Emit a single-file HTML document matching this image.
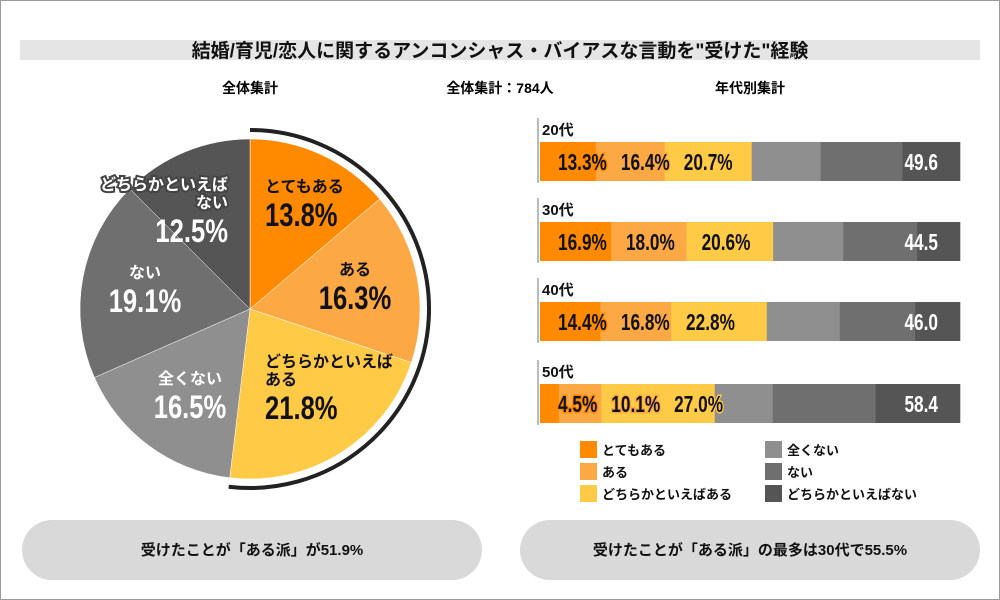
<!DOCTYPE html>
<html><head><meta charset="utf-8"><style>
body{margin:0;background:#fff;}
svg{display:block;font-family:"Liberation Sans","Noto Sans CJK JP",sans-serif;}
</style></head><body>
<svg width="1000" height="600" viewBox="0 0 1000 600">
<rect x="0.5" y="0.5" width="999" height="599" fill="#fff" stroke="#999"/>
<rect x="20" y="40" width="960" height="20" fill="#e5e5e5"/>
<text x="500" y="52" text-anchor="middle" dominant-baseline="middle" font-size="19" font-weight="bold" fill="#111">結婚/育児/恋人に関するアンコンシャス・バイアスな言動を"受けた"経験</text>
<text x="250" y="93" text-anchor="middle" font-size="14" font-weight="bold">全体集計</text>
<text x="500" y="93" text-anchor="middle" font-size="14" font-weight="bold">全体集計：784人</text>
<text x="750" y="93" text-anchor="middle" font-size="14" font-weight="bold">年代別集計</text>
<g id="pie"></g>
<g id="bars"></g>
<g id="legend"></g>
<rect x="22" y="520" width="460" height="60" rx="30" fill="#d9d9d9"/>
<text x="252" y="551" text-anchor="middle" dominant-baseline="middle" font-size="15" font-weight="bold" fill="#111">受けたことが「ある派」が51.9%</text>
<rect x="520" y="520" width="460" height="60" rx="30" fill="#d9d9d9"/>
<text x="750" y="551" text-anchor="middle" dominant-baseline="middle" font-size="15" font-weight="bold" fill="#111">受けたことが「ある派」の最多は30代で55.5%</text>
</svg>
<script>
const NS="http://www.w3.org/2000/svg";
const pieLabels=["とてもある","ある","どちらかといえばある","全くない","ない","どちらかといえばない"];
const pieValues=[13.8,16.3,21.8,16.5,19.1,12.5];
const colors=["#ff8a00","#fca845","#ffca45","#8f8f8f","#6f6f6f","#555555"];
const ages=["20代","30代","40代","50代"];
const s1=[13.3,16.9,14.4,4.5];
const s2=[16.4,18.0,16.8,10.1];
const s3=[20.7,20.6,22.8,27.0];
const s4=[16.4,16.7,17.4,13.8];
const s5=[19.5,17.6,17.9,24.5];
const s6=[13.7,10.2,10.7,20.1];
const totals=["49.6","44.5","46.0","58.4"];
function el(t,a,p){const e=document.createElementNS(NS,t);for(const k in a)e.setAttribute(k,a[k]);p.appendChild(e);return e;}
// pie
const pie=document.getElementById('pie');
const cx=250,cy=309,R=170;
const tot=pieValues.reduce((a,b)=>a+b,0);
function pt(r,f){const a=f*2*Math.PI-Math.PI/2;return [cx+r*Math.cos(a),cy+r*Math.sin(a)];}
let acc=0;
pieValues.forEach((v,i)=>{
  const f0=acc/tot,f1=(acc+v)/tot;acc+=v;
  const [x0,y0]=pt(R,f0),[x1,y1]=pt(R,f1);
  const p=el('path',{d:`M${cx},${cy}L${x0},${y0}A${R},${R} 0 ${f1-f0>0.5?1:0} 1 ${x1},${y1}Z`,fill:colors[i],stroke:'#fff','stroke-width':0.5},pie);
  
  
});
const af=(pieValues[0]+pieValues[1]+pieValues[2])/tot;
const [ax,ay]=pt(R+9,af);
const arc=el('path',{d:`M${cx},${cy-R-9}A${R+9},${R+9} 0 ${af>0.5?1:0} 1 ${ax},${ay}`,fill:'none',stroke:'#222','stroke-width':4},pie);


const pieTxt=[["とてもある"],["ある"],["どちらかといえば","ある"],["全くない"],["ない"],["どちらかといえば","ない"]];
const anchors=["start","middle","start","middle","middle","end"];
const lx=[265,355,265,190,145,228];
const ly=[192,275,367,384,278,190];
pieTxt.forEach((lines,i)=>{
  const dark=i<3;const fill=dark?'#111':'#fff';
  const g=el('g',{},pie);
  
  
  lines.forEach((l,j)=>{
    const t=el('text',{x:lx[i],y:ly[i]+j*18,'text-anchor':anchors[i],'font-size':16,'font-weight':'bold',fill:fill},g);
    if(i==5){t.setAttribute('stroke','#444');t.setAttribute('stroke-width','4');t.setAttribute('paint-order','stroke');}
    t.textContent=l;
  });
  const t2=el('text',{x:lx[i],y:ly[i]+(lines.length)*18+16,'text-anchor':anchors[i],'font-size':32,'font-weight':'bold',fill:fill,transform:`translate(${lx[i]},0) scale(0.8,1) translate(${-lx[i]},0)`},g);
  t2.textContent=pieValues[i].toFixed(1)+'%';
});
// bars
const bars=document.getElementById('bars');
const X0=540,W=420;
const xs=v=>v/100*W;
const series=[s1,s2,s3,s4,s5,s6];
const rowY=[142,222,302,384];
const SC=0.75;
ages.forEach((a,r)=>{
  const y=rowY[r];
  const ln=el('rect',{x:537,y:y-24,width:2,height:65,fill:'#bbb'},bars);
  
  
  const t=el('text',{x:542,y:y-7,'font-size':15,'font-weight':'bold',fill:'#111'},bars);
  
  
  t.textContent=a;
  let x=X0;
  const segStart=[];
  series.forEach((s,i)=>{
    const w=xs(s[r]);
    segStart.push(x);
    const rc=el('rect',{x:x,y:y,width:w+0.3,height:39,fill:colors[i]},bars);
    
    
    x+=w;
  });
  let prevEnd=0;
  for(let i=0;i<3;i++){
    const s=series[i];
    const lxs=i==0?558:Math.max(segStart[i]+15,prevEnd+14);
    const tx=el('text',{x:lxs,y:y+28,'font-size':23,'font-weight':'bold',fill:'#111',stroke:colors[i],'stroke-width':3,'paint-order':'stroke',transform:`translate(${lxs},0) scale(${SC},1) translate(${-lxs},0)`},bars);
    
    
    tx.textContent=s[r].toFixed(1)+'%';
    let wd=50;try{wd=tx.getComputedTextLength()*SC;}catch(e){}
    prevEnd=lxs+wd;
  }
  const tt=el('text',{x:938,y:y+28,'text-anchor':'end','font-size':23,'font-weight':'bold',fill:'#fff',transform:`translate(938,0) scale(${SC},1) translate(-938,0)`},bars);
  
  
  tt.textContent=totals[r];
});
// legend
const lg=document.getElementById('legend');
pieLabels.forEach((l,i)=>{
  const col=i<3?0:1,row=i%3;
  const x=col?765:580,y=441+row*22;
  const g=el('g',{},lg);
  
  
  el('rect',{x:x,y:y,width:17,height:17,fill:colors[i]},g);
  const t=el('text',{x:x+22,y:y+14,'font-size':13,'font-weight':'bold',fill:'#111'},g);
  t.textContent=l;
});
</script>
</body></html>
